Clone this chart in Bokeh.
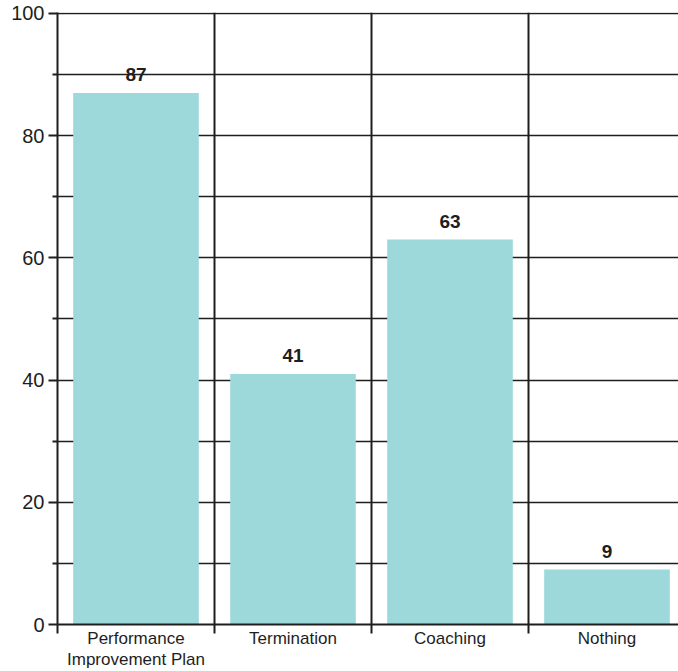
from bokeh.plotting import figure
from bokeh.models import ColumnDataSource, FixedTicker
from bokeh.embed import file_html
from bokeh.resources import INLINE
from bokeh.core.properties import value

# Responses to an underperforming employee
categories = ["Performance\nImprovement Plan", "Termination", "Coaching", "Nothing"]
counts = [87, 41, 63, 9]

y_ticks = [0, 20, 40, 60, 80, 100]
y_minor = [10, 30, 50, 70, 90]

positions = [i + 0.5 for i in range(len(categories))]
boundaries = list(range(len(categories) + 1))

src = ColumnDataSource(dict(x=positions, top=counts, label=[str(c) for c in counts]))

INK = "#1e1e1e"
BAR = "#9dd8da"
FONT = "Liberation Sans"

# the top end sits a hair above 100 so the 100 grid line is drawn
p = figure(width=678, height=671, output_backend="svg", toolbar_location=None,
           x_range=(0, 621 / 157), y_range=(0, 613 / 6.12),
           min_border_left=57, min_border_right=0, min_border_top=12, min_border_bottom=46)
p.outline_line_color = None
p.background_fill_color = "white"
p.border_fill_color = "white"

p.vbar(x="x", top="top", width=0.8, source=src, fill_color=BAR, line_color=None)
p.text(x="x", y="top", text="label", source=src, text_align="center",
       text_baseline="alphabetic", y_offset=-18, text_color=INK,
       text_font=value(FONT), text_font_size="19px", text_font_style="bold")

# y axis: labelled every 20, short ticks every 10
yt = FixedTicker(ticks=y_ticks, minor_ticks=y_minor)
p.yaxis.ticker = yt
p.yaxis.axis_line_color = INK
p.yaxis.axis_line_width = 2
p.yaxis.major_tick_line_color = INK
p.yaxis.major_tick_line_width = 2
p.yaxis.major_tick_out = 9
p.yaxis.major_tick_in = 0
p.yaxis.minor_tick_line_color = INK
p.yaxis.minor_tick_line_width = 2
p.yaxis.minor_tick_out = 5
p.yaxis.minor_tick_in = 0
p.yaxis.major_label_text_font = FONT
p.yaxis.major_label_text_font_size = "20px"
p.yaxis.major_label_text_color = INK
p.yaxis.major_label_standoff = 4

# x axis: names at category centres, ticks at category boundaries
xt = FixedTicker(ticks=positions, minor_ticks=boundaries)
p.xaxis.ticker = xt
p.xaxis.major_label_overrides = {pos: name for pos, name in zip(positions, categories)}
p.xaxis.axis_line_color = INK
p.xaxis.axis_line_width = 2
p.xaxis.major_tick_line_color = None
p.xaxis.major_tick_out = 0
p.xaxis.major_tick_in = 0
p.xaxis.minor_tick_line_color = INK
p.xaxis.minor_tick_line_width = 2
p.xaxis.minor_tick_out = 9
p.xaxis.minor_tick_in = 0
p.xaxis.major_label_text_font = FONT
p.xaxis.major_label_text_font_size = "17px"
p.xaxis.major_label_text_color = INK
p.xaxis.major_label_text_line_height = 1.12
p.xaxis.major_label_standoff = -5

# grid: horizontal every 10, vertical at category boundaries
p.ygrid.ticker = FixedTicker(ticks=y_ticks, minor_ticks=y_minor)
p.ygrid.grid_line_color = INK
p.ygrid.grid_line_width = 1.5
p.ygrid.minor_grid_line_color = INK
p.ygrid.minor_grid_line_width = 1.5
p.xgrid.ticker = FixedTicker(ticks=boundaries)
p.xgrid.grid_line_color = INK
p.xgrid.grid_line_width = 2

open("out.html", "w").write(file_html(p, INLINE))
